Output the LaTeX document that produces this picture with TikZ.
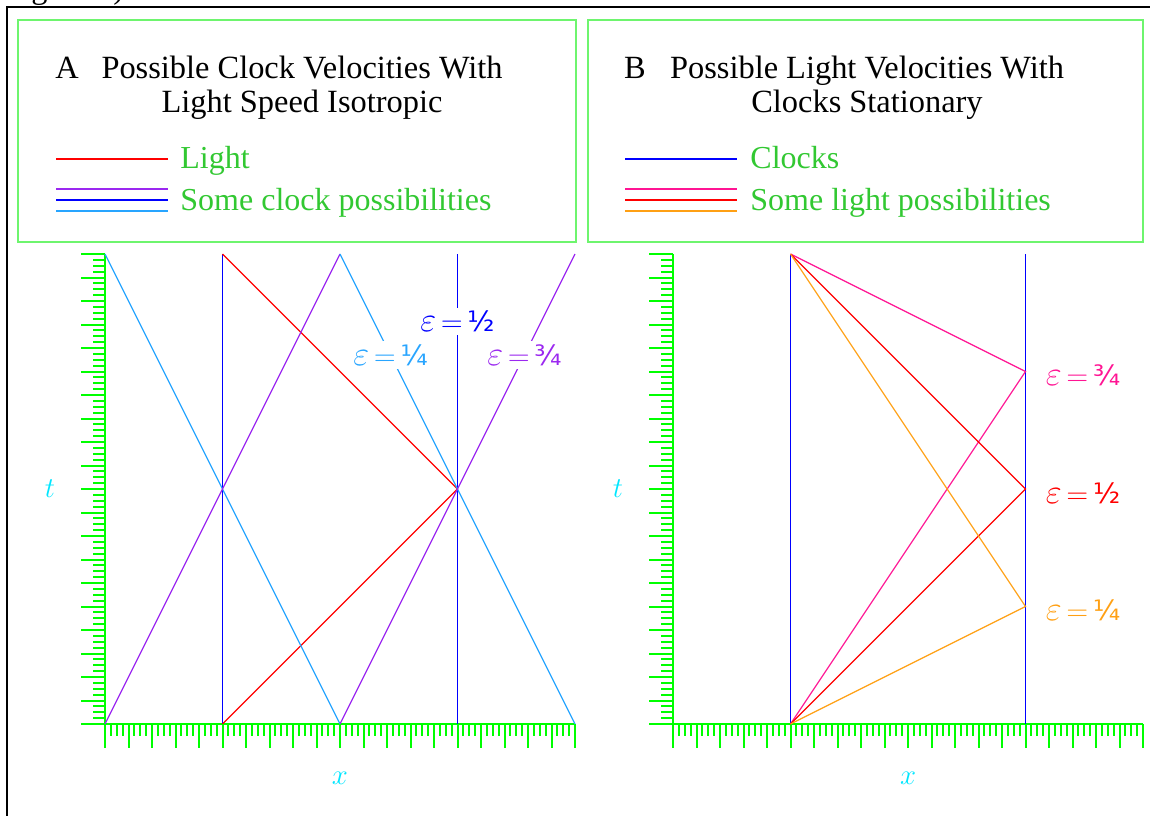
\documentclass[tikz,border=0pt]{standalone}
\usepackage{fontspec}
\setmainfont{Liberation Serif}
\newfontfamily\fracfont{DejaVu Sans}
\usetikzlibrary{positioning}
\definecolor{axisgreen}{RGB}{0,255,0}
\definecolor{boxgreen}{RGB}{110,245,110}
\definecolor{leggreen}{RGB}{50,200,50}
\definecolor{axcyan}{RGB}{0,230,255}
\definecolor{skyblue}{RGB}{40,165,255}
\definecolor{clockblue}{RGB}{0,0,255}
\definecolor{clockpurple}{RGB}{155,40,240}
\definecolor{lightred}{RGB}{255,0,0}
\definecolor{deeppink}{RGB}{255,20,147}
\definecolor{lightorange}{RGB}{255,160,20}
\newcommand\fhalf{{\fracfont ½}}
\newcommand\fquart{{\fracfont ¼}}
\newcommand\fthreeq{{\fracfont ¾}}
\newcommand\epseq{{\fontsize{16}{16}\selectfont$\varepsilon$}\,$=$\,}
\tikzset{
  frame/.style={draw=black, line width=1.2pt},
  legbox/.style={draw=boxgreen, line width=0.75pt},
  title/.style={font=\fontsize{16.2}{16.7}\selectfont, align=center, inner sep=0pt},
  legtext/.style={font=\fontsize{16}{18}\selectfont, text=leggreen, inner sep=0pt, anchor=base west},
  axis/.style={draw=axisgreen, line width=1pt},
  tick/.style={draw=axisgreen, line width=1pt},
  wl/.style={line width=0.6pt},
  light/.style={wl, draw=lightred, text=lightred},
  clock/.style={wl, draw=clockblue, text=clockblue},
  slowclk/.style={wl, draw=skyblue, text=skyblue},
  fastclk/.style={wl, draw=clockpurple, text=clockpurple},
  pinklt/.style={wl, draw=deeppink, text=deeppink},
  orangelt/.style={wl, draw=lightorange, text=lightorange},
  epslbl/.style={font=\fontsize{14}{16}\selectfont, inner sep=1.5pt},
  axlbl/.style={font=\fontsize{14.5}{16}\selectfont, text=axcyan}}

\begin{document}
\begin{tikzpicture}[x=0.5pt, y=-0.5pt]
  \useasboundingbox (0,0) rectangle (1150,815);
  % frame and caption remnant
  \node[title, anchor=base west] (capfrag) at (4,-2) {Figure 1)};
  \draw[frame] (7,830) -- (7,7) -- (1160,7);
  % legend A
  \draw[legbox] (18,20) rectangle (576,242);
  \node[title, anchor=north] (ttlA) at (302,56) {Possible Clock Velocities With\\Light Speed Isotropic};
  \node[title, anchor=base] (ltrA) at (67,78) {A};
  \node[legtext] (lgA1) at (180,168) {Light};
  \node[legtext] (lgA2) at (180,210) {Some clock possibilities};
  \draw[light] (56,159) -- (168,159);
  \draw[fastclk] (56,189) -- (168,189);
  \draw[clock] (56,200) -- (168,200);
  \draw[slowclk] (56,211) -- (168,211);
  % legend B
  \draw[legbox] (588,20) rectangle (1143,242);
  \node[title, anchor=north] (ttlB) at (867,56) {Possible Light Velocities With\\Clocks Stationary};
  \node[title, anchor=base] (ltrB) at (635,78) {B};
  \node[legtext] (lgB1) at (750,168) {Clocks};
  \node[legtext] (lgB2) at (750,210) {Some light possibilities};
  \draw[clock] (625,159) -- (737,159);
  \draw[pinklt] (625,189) -- (737,189);
  \draw[light] (625,200) -- (737,200);
  \draw[orangelt] (625,211) -- (737,211);
  % panel A: clocks moving, light isotropic
  \begin{scope}[shift={(105,724)}, x=11.75pt, y=11.75pt]
    \foreach \gx in {0,5,10,15,20}
      \foreach \gt in {0,10,20}
        \coordinate (a-\gx-\gt) at (\gx,\gt);
    \foreach \k in {0,0.25,...,20} {
      \draw[tick] (0,\k) -- ++(-6pt,0);
      \draw[tick] (\k,0) -- ++(0,-6pt);
    }
    \foreach \k in {0,...,20} {
      \draw[tick] (0,\k) -- ++(-12pt,0);
      \draw[tick] (\k,0) -- ++(0,-12pt);
    }
    \draw[axis] (a-0-20) -- (a-0-0) -- (a-20-0);
    \draw[clock] (a-5-0) -- (a-5-20);
    \draw[light] (a-5-0) -- (a-15-10) -- (a-5-20);
    \draw[slowclk] (a-0-20) -- (a-10-0);
    \draw[fastclk] (a-0-0) -- (a-10-20);
    \draw[clock] (a-15-0) -- node[epslbl, fill=white, pos=0.857] (epsA2) {\epseq\fhalf} (a-15-20);
    \draw[slowclk] (a-10-20) -- node[epslbl, fill=white, pos=0.215] (epsA1) {\epseq\fquart} (a-20-0);
    \draw[fastclk] (a-10-0) -- node[epslbl, fill=white, pos=0.785] (epsA3) {\epseq\fthreeq} (a-20-20);
    \node[axlbl] (tA) at (-2.34,10) {$t$};
    \node[axlbl] (xA) at (10,-2.3) {$x$};
  \end{scope}
  % panel B: clocks at rest, light anisotropic
  \begin{scope}[shift={(673,724)}, x=11.75pt, y=11.75pt]
    \foreach \gx in {0,5,15,20}
      \foreach \gt in {0,5,10,15,20}
        \coordinate (b-\gx-\gt) at (\gx,\gt);
    \foreach \k in {0,0.25,...,20} {
      \draw[tick] (0,\k) -- ++(-6pt,0);
      \draw[tick] (\k,0) -- ++(0,-6pt);
    }
    \foreach \k in {0,...,20} {
      \draw[tick] (0,\k) -- ++(-12pt,0);
      \draw[tick] (\k,0) -- ++(0,-12pt);
    }
    \draw[axis] (b-0-20) -- (b-0-0) -- (b-20-0);
    \draw[clock] (b-5-0) -- (b-5-20);
    \draw[clock] (b-15-0) -- (b-15-20);
    \draw[pinklt] (b-5-0) -- (b-15-15) -- (b-5-20);
    \draw[light] (b-5-0) -- (b-15-10) -- (b-5-20);
    \draw[orangelt] (b-5-0) -- (b-15-5) -- (b-5-20);
    \node[epslbl, text=deeppink, right=8.5pt of b-15-15, yshift=-2pt] (epsB3) {\epseq\fthreeq};
    \node[epslbl, text=lightred, right=8.5pt of b-15-10, yshift=-2pt] (epsB2) {\epseq\fhalf};
    \node[epslbl, text=lightorange, right=8.5pt of b-15-5, yshift=-2pt] (epsB1) {\epseq\fquart};
    \node[axlbl] (tB) at (-2.34,10) {$t$};
    \node[axlbl] (xB) at (10,-2.3) {$x$};
  \end{scope}
\end{tikzpicture}
\end{document}
